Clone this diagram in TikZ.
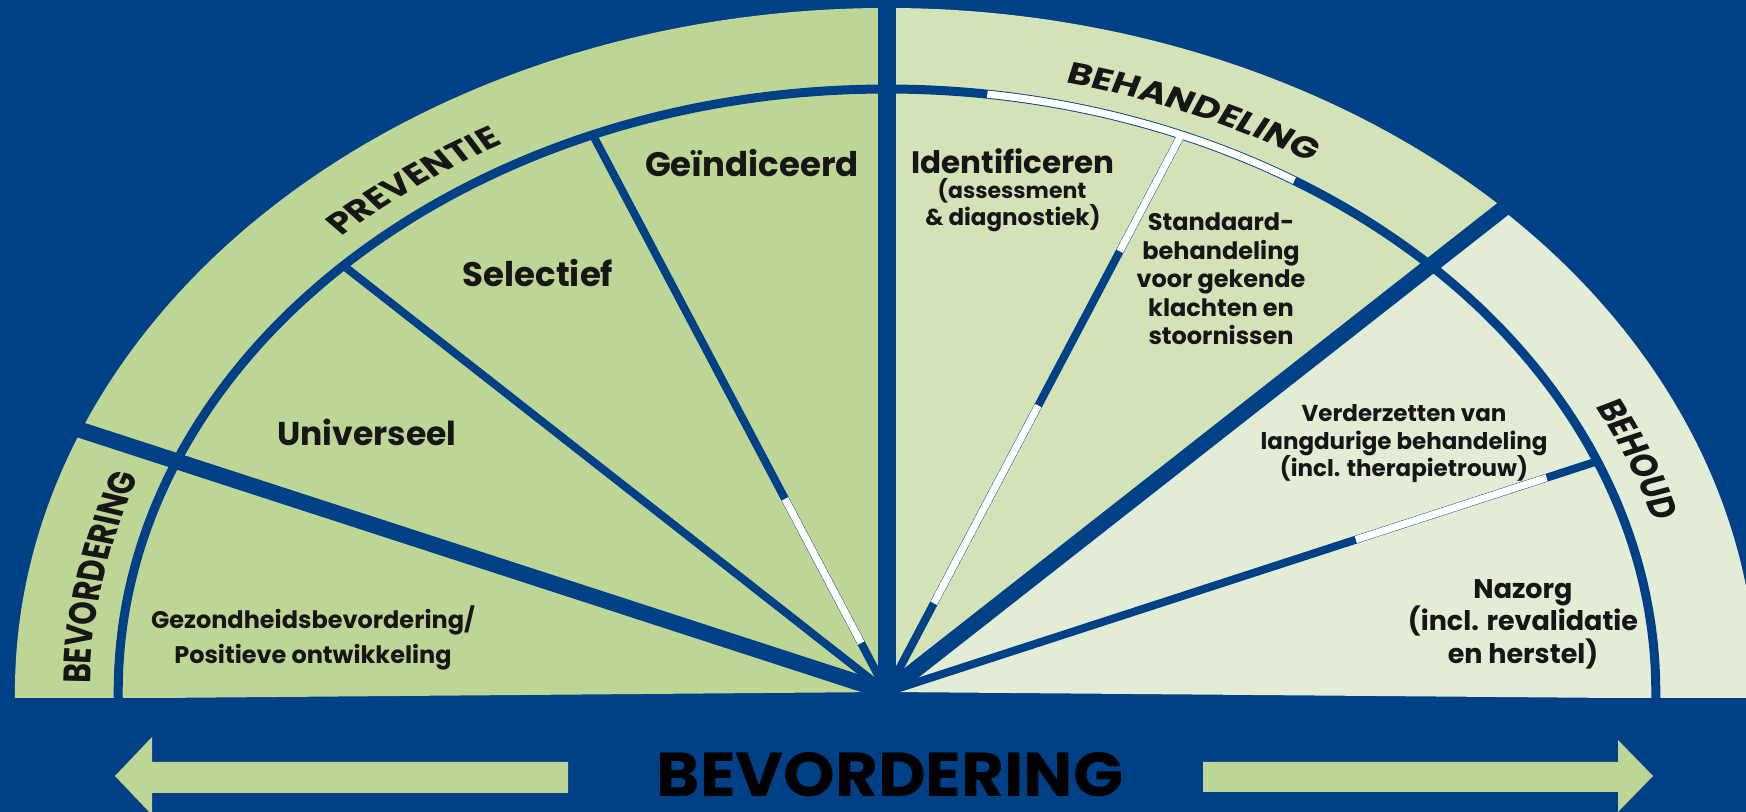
\documentclass[tikz,border=0pt]{standalone}
\usepackage{fontspec}
\setmainfont{Poppins}
\newfontfamily\bandfamily{Poppins}
\usetikzlibrary{decorations.text}

\definecolor{navy}{RGB}{0,64,134}
\definecolor{greenA}{RGB}{190,214,149}
\definecolor{greenB}{RGB}{211,227,183}
\definecolor{greenC}{RGB}{227,236,212}
\definecolor{ink}{RGB}{22,22,22}

\newcommand{\bandfont}{\bandfamily\bfseries\fontsize{15}{15}\selectfont}

\begin{document}
\begin{tikzpicture}[x=0.5pt, y=0.5pt,
  separator/.style={draw=navy, line width=8pt},
  ray/.style={draw=navy, line width=4pt},
  rim/.style={draw=navy, line width=4.5pt},
  glint/.style={draw=white, line width=3.6pt},
  txt/.style={text=ink, font=\bfseries, align=center, inner sep=0pt},
  band/.style={decorate, decoration={text along path, text align=center, text color=ink}},
  bigarrow/.style={fill=greenA}]

\useasboundingbox (0,0) rectangle (1746,812);
\fill[navy] (0,0) rectangle (1746,812);

% fan of sectors, drawn on a circle that is stretched horizontally
\begin{scope}[shift={(887,120)}, xscale=1.275]
  \fill[greenA] (0,0) -- (180.6:684) arc[start angle=180.6, end angle=90, radius=684] -- cycle;
  \fill[greenB] (0,0) -- (90:684) arc[start angle=90, end angle=45, radius=684] -- cycle;
  \fill[greenC] (0,0) -- (45:682) arc[start angle=45, end angle=-0.6, radius=682] -- cycle;
  % inner rims between label bands and wedges
  \draw[rim] (180.6:603) arc[start angle=180.6, end angle=45, radius=603];
  \draw[rim] (45:603) arc[start angle=45, end angle=-0.6, radius=603];
  % thin rays
  \draw[ray] (0,0) -- (135:603);
  \draw[ray] (0,0) -- (112.5:603);
  \draw[ray] (0,0) -- (67.5:603);
  \draw[ray] (0,0) -- (22.5:603);
  % thick separators
  \draw[separator] (0,0) -- (157.5:720);
  \draw[separator] (0,0) -- (45:720);
  \fill[navy] (-7,-10) rectangle (7,700);
  % white highlights on some of the lines
  \draw[glint] (82.5:603) arc[start angle=82.5, end angle=58, radius=603];
  \draw[glint] (112.5:53) -- (112.5:209);
  \draw[glint] (67.5:96) -- (67.5:310);
  \draw[glint] (67.5:477) -- (67.5:603);
  \draw[glint] (22.5:398) -- (22.5:560);
\end{scope}

% curved band titles
\begin{scope}[transform canvas={shift={(887,120)}, xscale=1.275}]
  \path[band, decoration={text={|\bandfont|BEVORDERING}}] (189:625) arc[start angle=189, end angle=150, radius=625];
  \path[band, decoration={text={|\bandfont|PREVENTIE}}] (145:625) arc[start angle=145, end angle=107, radius=625];
  \path[band, decoration={text={|\bandfont|BEHANDELING}}] (87:625) arc[start angle=87, end angle=48, radius=625];
  \path[band, decoration={text={|\bandfont|BEHOUD}}] (41:625) arc[start angle=41, end angle=2, radius=625];
\end{scope}

% bottom strip with arrows
\fill[navy] (0,0) rectangle (1746,114);
\fill[bigarrow] (568,50) -- (152,50) -- (152,75) -- (115,36) -- (152,-3) -- (152,19) -- (568,19) -- cycle;
\fill[bigarrow] (1203,50) -- (1618,50) -- (1618,72) -- (1653,36) -- (1618,0) -- (1618,20) -- (1203,20) -- cycle;
\node[txt, text=black, font=\bfseries\fontsize{31}{31}\selectfont] (title) at (890,37) {\scalebox{1.06}[1]{BEVORDERING}};

% wedge texts
\node[txt, font=\bfseries\fontsize{12}{17.3}\selectfont] (gezond) at (313,174) {Gezondheidsbevordering/\\Positieve ontwikkeling};
\node[txt, font=\bfseries\fontsize{16.5}{20}\selectfont] (univ) at (367,380) {Universeel};
\node[txt, font=\bfseries\fontsize{17}{20}\selectfont] (select) at (538,539) {Selectief};
\node[txt, font=\bfseries\fontsize{17}{20}\selectfont] (geind) at (752,649) {Geïndiceerd};

\node[txt, font=\bfseries\fontsize{15.5}{19}\selectfont] (ident) at (1013,651) {Identificeren};
\node[txt, font=\bfseries\fontsize{11}{14}\selectfont] (assess) at (1012,621) {(assessment};
\node[txt, font=\bfseries\fontsize{11.5}{14}\selectfont] (diagn) at (1013,594) {\& diagnostiek)};

\node[txt, font=\bfseries\fontsize{12}{14.25}\selectfont] (standaard) at (1221,533) {Standaard-\\behandeling\\voor gekende\\klachten en\\stoornissen};

\node[txt, font=\bfseries\fontsize{11.5}{13.75}\selectfont] (verder) at (1404,368) {Verderzetten van\\langdurige behandeling\\(incl. therapietrouw)};

\node[txt, font=\bfseries\fontsize{13.5}{16.25}\selectfont] (nazorg) at (1523,188) {Nazorg\\(incl. revalidatie\\en herstel)};

\end{tikzpicture}
\end{document}
